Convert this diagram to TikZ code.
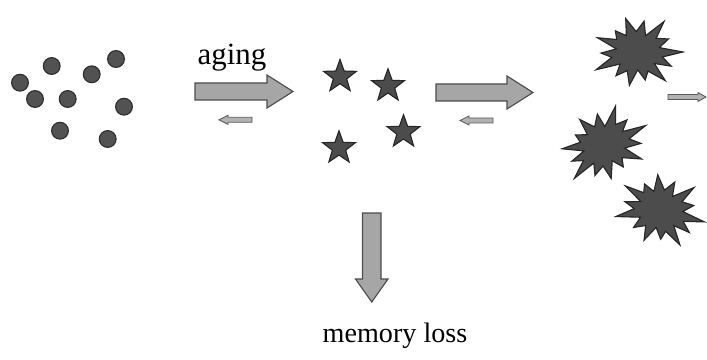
\documentclass[tikz,border=0pt]{standalone}
\usepackage{fontspec}
\setmainfont{Liberation Serif}
\usetikzlibrary{shapes.geometric}

\begin{document}
\begin{tikzpicture}[x=0.025cm,y=-0.025cm,
    dot/.style={circle,fill=black!68,draw=black!82,thick,inner sep=0pt,minimum size=0.42cm},
    starshape/.style={star,star points=5,star point ratio=2.45,fill=black!70,draw=black!85,thick,inner sep=0pt,minimum size=0.86cm},
    burstfill/.style={fill=black!70,draw=black!85,thick,line join=miter},
    bigarrow/.style={fill=black!35,draw=black!70,line width=0.8pt},
    smallarrow/.style={fill=black!30,draw=black!65,line width=0.6pt}]
    \useasboundingbox (0,0) rectangle (707,360);
    % young state
    \foreach \u/\v/\n in {20/82.7/a,51.7/66/b,91.7/74.3/c,116/59/d,35/99/e,67.7/99/f,124/106.7/g,60/130.7/h,107.7/139/i}
    \node[dot] (dot\n) at (\u,\v) {};
    % middle state
    \foreach \u/\v/\n in {340/76.7/a,388/86/b,403.5/132/c,339/148/d}
    \node[starshape] (star\n) at (\u,\v) {};
    % old state
    \foreach \u/\v/\r [count=\k] in {637/52/0,604/145/25,660/210/-15} {
    \begin{scope}[shift={(\u,\v)},rotate=\r,yscale=0.85]
    \draw[burstfill] (0:46) \foreach \a/\d in {13/26,26/38,38/22,50/44,64/25,76/34,88/21,101/40,114/24,127/35,140/22,153/46,166/26,178/36,190/21,203/43,216/25,229/33,241/22,254/41,268/24,281/37,294/21,307/45,320/25,334/35,347/23} { -- (\a:\d)} -- cycle;
    \end{scope}
    }
    % arrows
    \draw[bigarrow] (195,83) -- (267,83) -- (267,75) -- (293,91.5) -- (267,108) -- (267,100) -- (195,100) -- cycle;
    \draw[bigarrow] (436,84) -- (507,84) -- (507,76) -- (533,92.5) -- (507,109) -- (507,101) -- (436,101) -- cycle;
    \draw[smallarrow] (252,117.3) -- (228,117.3) -- (228,115.3) -- (219,119.8) -- (228,124.3) -- (228,122.3) -- (252,122.3) -- cycle;
    \draw[smallarrow] (493,118) -- (469,118) -- (469,116) -- (460,120.5) -- (469,125) -- (469,123) -- (493,123) -- cycle;
    \draw[smallarrow] (668,94.5) -- (698,94.5) -- (698,92.5) -- (706,97) -- (698,101.5) -- (698,99.5) -- (668,99.5) -- cycle;
    \draw[bigarrow] (362.5,213) -- (381,213) -- (381,279) -- (388,279) -- (371.75,302) -- (355.5,279) -- (362.5,279) -- cycle;
    % labels
    \node (aging) at (232,58) {\fontsize{22}{26}\selectfont aging};
    \node (loss) at (395,336) {\fontsize{20}{24}\selectfont memory loss};
\end{tikzpicture}
\end{document}
